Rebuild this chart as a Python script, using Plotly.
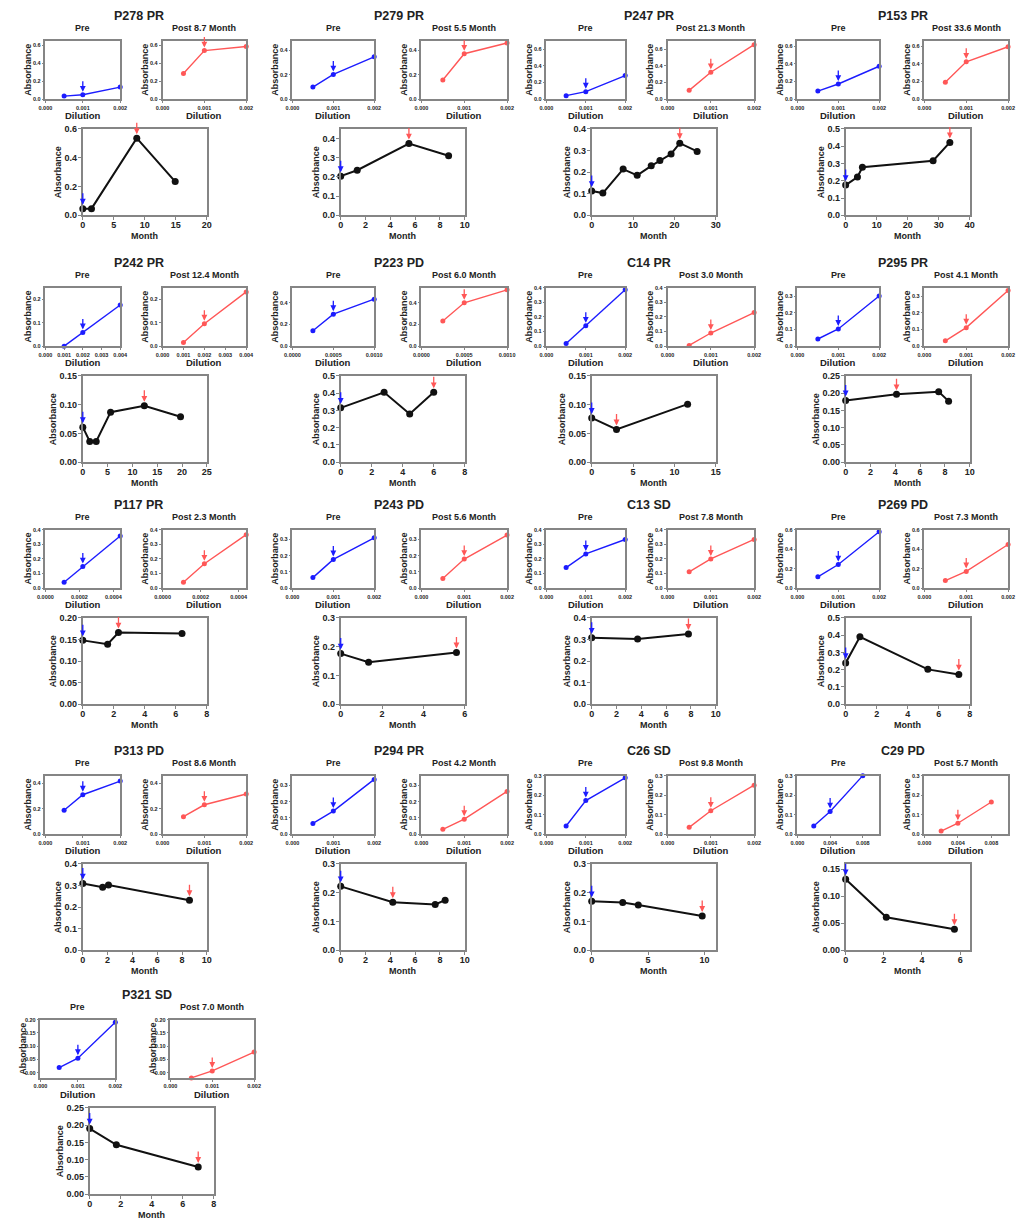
import plotly.graph_objects as go

W, H = 1021, 1222
FONT = "Liberation Sans"

# ---------------- data ----------------
panel_names = ["P278 PR", "P279 PR", "P247 PR", "P153 PR",
               "P242 PR", "P223 PD", "C14 PR", "P295 PR",
               "P117 PR", "P243 PD", "C13 SD", "P269 PD",
               "P313 PD", "P294 PR", "C26 SD", "C29 PD",
               "P321 SD"]
post_month = [8.7, 5.5, 21.3, 33.6, 12.4, 6.0, 3.0, 4.1, 2.3, 5.6, 7.8, 7.3,
              8.6, 4.2, 9.8, 5.7, 7.0]

dilution = [
    [0.0005, 0.001, 0.002], [0.0005, 0.001, 0.002], [0.0005, 0.001, 0.002], [0.0005, 0.001, 0.002],
    [0.001, 0.002, 0.004], [0.00025, 0.0005, 0.001], [0.0005, 0.001, 0.002], [0.0005, 0.001, 0.002],
    [0.00011, 0.00022, 0.00044], [0.0005, 0.001, 0.002], [0.0005, 0.001, 0.002], [0.0005, 0.001, 0.002],
    [0.0005, 0.001, 0.002], [0.0005, 0.001, 0.002], [0.0005, 0.001, 0.002], [0.002, 0.004, 0.008],
    [0.0005, 0.001, 0.002],
]
pre_absorbance = [
    [0.035, 0.05, 0.135], [0.10, 0.203, 0.348], [0.043, 0.09, 0.283], [0.092, 0.172, 0.372],
    [0.0, 0.059, 0.176], [0.143, 0.295, 0.434], [0.019, 0.139, 0.386], [0.043, 0.103, 0.30],
    [0.041, 0.148, 0.357], [0.065, 0.177, 0.31], [0.141, 0.234, 0.333], [0.117, 0.243, 0.578],
    [0.188, 0.31, 0.417], [0.066, 0.142, 0.337], [0.042, 0.172, 0.289], [0.042, 0.116, 0.30],
    [0.02, 0.055, 0.19],
]
post_absorbance = [
    [0.285, 0.54, 0.585], [0.158, 0.373, 0.461], [0.106, 0.323, 0.652], [0.192, 0.422, 0.592],
    [0.016, 0.096, 0.232], [0.233, 0.40, 0.52], [0.005, 0.09, 0.23], [0.032, 0.111, 0.333],
    [0.041, 0.167, 0.366], [0.059, 0.179, 0.327], [0.112, 0.20, 0.333], [0.078, 0.172, 0.448],
    [0.137, 0.231, 0.316], [0.03, 0.092, 0.263], [0.035, 0.12, 0.251], [0.016, 0.056, 0.165],
    [-0.019, 0.007, 0.078],
]
ts_month = [
    [0, 1.4, 8.7, 14.9],
    [0, 1.33, 5.5, 8.7],
    [0, 2.7, 7.6, 11.0, 14.4, 16.5, 19.2, 21.3, 25.5],
    [0, 3.8, 5.4, 28.2, 33.6],
    [0, 1.4, 2.7, 5.6, 12.4, 19.7],
    [0, 2.8, 4.45, 6.0],
    [0, 3.0, 11.6],
    [0, 4.1, 7.5, 8.3],
    [0, 1.6, 2.3, 6.4],
    [0, 1.35, 5.6],
    [0, 3.7, 7.8],
    [0, 0.92, 5.3, 7.3],
    [0, 1.6, 2.07, 8.6],
    [0, 4.2, 7.62, 8.42],
    [0, 2.75, 4.13, 9.8],
    [0, 2.13, 5.7],
    [0, 1.72, 7.0],
]
ts_absorbance = [
    [0.046, 0.046, 0.536, 0.234],
    [0.204, 0.235, 0.374, 0.31],
    [0.112, 0.103, 0.214, 0.185, 0.229, 0.254, 0.284, 0.334, 0.296],
    [0.175, 0.222, 0.278, 0.316, 0.422],
    [0.061, 0.036, 0.036, 0.087, 0.098, 0.079],
    [0.315, 0.405, 0.28, 0.405],
    [0.077, 0.057, 0.101],
    [0.179, 0.197, 0.204, 0.177],
    [0.148, 0.139, 0.166, 0.164],
    [0.176, 0.146, 0.18],
    [0.308, 0.302, 0.326],
    [0.239, 0.391, 0.202, 0.172],
    [0.309, 0.292, 0.302, 0.232],
    [0.222, 0.167, 0.159, 0.174],
    [0.17, 0.166, 0.157, 0.119],
    [0.1315, 0.061, 0.039],
    [0.19, 0.143, 0.079],
]

# axis settings (tick labels / ranges)
std_ticks = [0, 0.001, 0.002]
dil_ticks = [std_ticks, std_ticks, std_ticks, std_ticks,
             [0, 0.001, 0.002, 0.003, 0.004], [0, 0.0005, 0.001], std_ticks, std_ticks,
             [0, 0.0002, 0.0004], std_ticks, std_ticks, std_ticks,
             std_ticks, std_ticks, std_ticks, [0, 0.004, 0.008],
             std_ticks]
dil_max = [0.002, 0.002, 0.002, 0.002, 0.004, 0.001, 0.002, 0.002, 0.00044, 0.002,
           0.002, 0.002, 0.002, 0.002, 0.002, 0.01, 0.002]
dil_fmt = [".3f"] * 5 + [".4f"] + [".3f"] * 2 + [".4f"] + [".3f"] * 8
small_y_range = [[0, 0.65], [0, 0.48], [0, 0.7], [0, 0.66], [0, 0.25], [0, 0.54], [0, 0.4],
                 [0, 0.35], [0, 0.4], [0, 0.36], [0, 0.4], [0, 0.6], [0, 0.46], [0, 0.36],
                 [0, 0.3], [0, 0.3], [-0.02, 0.2]]
small_y_dtick = [0.2, 0.2, 0.2, 0.2, 0.1, 0.2, 0.1, 0.1, 0.1, 0.1, 0.1, 0.2, 0.2, 0.1,
                 0.1, 0.1, 0.05]
ts_x_max = [20, 10, 30, 40, 25, 8, 15, 10, 8, 6, 10, 8, 10, 10, 11, 6.5, 8]
ts_x_dtick = [5, 2, 10, 10, 5, 2, 5, 2, 2, 2, 2, 2, 2, 2, 5, 2, 2]
ts_y_max = [0.6, 0.45, 0.4, 0.5, 0.15, 0.5, 0.15, 0.25, 0.2, 0.3, 0.4, 0.5, 0.4, 0.3,
            0.3, 0.16, 0.25]
ts_y_dtick = [0.2, 0.1, 0.1, 0.1, 0.05, 0.1, 0.05, 0.05, 0.05, 0.1, 0.1, 0.1, 0.1, 0.1,
              0.1, 0.05, 0.05]

# ---------------- layout geometry (pixels) ----------------
row_off = [0, 249, 493, 741, 987]
col_title_x = [133, 397, 651, 909]
pre_left = [38, 289, 547, 802]
pre_w = [76, 83, 80, 83]
post_left = [157, 420, 670, 931]
post_w = [85, 87, 88, 85]
ts_left = [76, 338, 593, 851]
ts_w = 126
# the last row's single panel sits slightly differently
last_row_shift = dict(title=8, pre=-5, post=8, ts=7)
small_top, small_h = 36, 59
ts_top, ts_h = 125, 87
title_y, sub_y = 11, 23

BLUE = "#1c1cff"
RED = "#ff5757"
BLACK = "#111111"
SPINE = "#858585"
TXT = "#222222"


def xdom(l, w):
    return [l / W, (l + w) / W]


def ydom(t, h):
    return [1 - (t + h) / H, 1 - t / H]


fig = go.Figure()
lay = {}
annotations = []


def text(txt, px, py, size, angle=0):
    annotations.append(dict(
        text="<b>" + txt + "</b>", x=px / W, y=1 - py / H, xref="paper", yref="paper",
        showarrow=False, xanchor="center", yanchor="middle", textangle=angle,
        font=dict(family=FONT, size=size, color=TXT)))


def arrow(k, x, y, color, ay, standoff):
    annotations.append(dict(
        text="", x=x, y=y, xref=f"x{k}", yref=f"y{k}", showarrow=True,
        ax=0, ay=ay, arrowhead=2, arrowsize=0.9, arrowwidth=1.3,
        arrowcolor=color, standoff=standoff))


def axis_common(tsize, tlen, lw):
    return dict(showline=True, linecolor=SPINE, linewidth=lw, mirror=True,
                showgrid=False, zeroline=False, ticks="outside", ticklen=tlen,
                tickwidth=1, tickcolor=SPINE,
                tickfont=dict(family=FONT, size=tsize, color=TXT, weight="bold"))


k = 0
for i, name in enumerate(panel_names):
    r, c = divmod(i, 4)
    off = row_off[r]
    sh = last_row_shift if r == len(row_off) - 1 else dict(title=0, pre=0, post=0, ts=0)
    text(name, col_title_x[c] + sh["title"], title_y + off, 12.5)

    for kind in ("pre", "post"):
        k += 1
        left = (pre_left[c] if kind == "pre" else post_left[c]) + sh[kind]
        w = pre_w[c] if kind == "pre" else post_w[c]
        yv = pre_absorbance[i] if kind == "pre" else post_absorbance[i]
        col = BLUE if kind == "pre" else RED
        fig.add_trace(go.Scatter(
            x=dilution[i], y=yv, xaxis=f"x{k}", yaxis=f"y{k}", mode="lines+markers",
            line=dict(color=col, width=1.4), marker=dict(color=col, size=5),
            cliponaxis=False, showlegend=False, hoverinfo="skip"))
        xa = axis_common(5.5, 2, 1.5)
        xa.update(domain=xdom(left, w), anchor=f"y{k}", range=[0, dil_max[i]],
                  tickvals=dil_ticks[i], tickformat=dil_fmt[i])
        ya = axis_common(5.5, 2, 1.5)
        ya.update(domain=ydom(small_top + off, small_h), anchor=f"x{k}",
                  range=small_y_range[i], tick0=0, dtick=small_y_dtick[i],
                  tickformat=".2f" if small_y_dtick[i] < 0.1 else ".1f")
        lay[f"xaxis{k}"] = xa
        lay[f"yaxis{k}"] = ya
        arrow(k, dilution[i][1], yv[1], col, -15, 3)
        sub = "Pre" if kind == "pre" else f"Post {post_month[i]:.1f} Month"
        text(sub, left + w / 2, sub_y + off, 9)
        text("Absorbance", left - 18, small_top + off + small_h / 2, 9, -90)
        text("Dilution", left + w / 2, small_top + off + small_h + 16, 9.5)

    # time series
    k += 1
    left = ts_left[c] + sh["ts"]
    fig.add_trace(go.Scatter(
        x=ts_month[i], y=ts_absorbance[i], xaxis=f"x{k}", yaxis=f"y{k}",
        mode="lines+markers", line=dict(color=BLACK, width=2),
        marker=dict(color=BLACK, size=7), cliponaxis=False, showlegend=False,
        hoverinfo="skip"))
    xa = axis_common(9, 3, 1.8)
    xa.update(domain=xdom(left, ts_w), anchor=f"y{k}", range=[0, ts_x_max[i]],
              tick0=0, dtick=ts_x_dtick[i], ticklabelstandoff=-3)
    ya = axis_common(9, 3, 1.8)
    two_dec = ts_y_dtick[i] < 0.1
    ya.update(domain=ydom(ts_top + off, ts_h), anchor=f"x{k}", range=[0, ts_y_max[i]],
              tick0=0, dtick=ts_y_dtick[i], tickformat=".2f" if two_dec else ".1f",
              ticklabelstandoff=-1)
    lay[f"xaxis{k}"] = xa
    lay[f"yaxis{k}"] = ya
    arrow(k, ts_month[i][0], ts_absorbance[i][0], BLUE, -17, 4)
    j = ts_month[i].index(post_month[i])
    arrow(k, ts_month[i][j], ts_absorbance[i][j], RED, -17, 4)
    text("Absorbance", left - (30 if two_dec else 25), ts_top + off + ts_h / 2, 9, -90)
    text("Month", left + ts_w / 2, ts_top + off + ts_h + 21, 9)

fig.update_layout(
    width=W, height=H, margin=dict(l=0, r=0, t=0, b=0),
    paper_bgcolor="white", plot_bgcolor="white",
    showlegend=False, annotations=annotations, **lay)

fig.write_html("out.html", config={"displayModeBar": False},
               post_script="document.body.style.margin='0';document.body.style.overflow='hidden';")
